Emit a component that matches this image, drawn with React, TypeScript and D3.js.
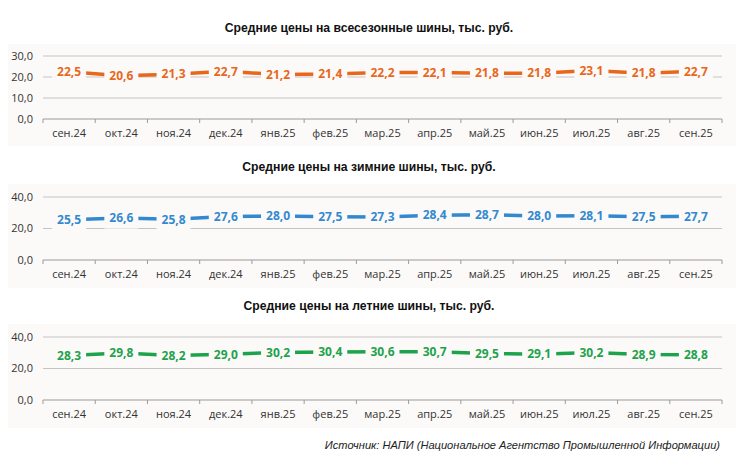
import React from 'react'
import * as d3 from 'd3'

const months = ['сен.24', 'окт.24', 'ноя.24', 'дек.24', 'янв.25', 'фев.25', 'мар.25', 'апр.25', 'май.25', 'июн.25', 'июл.25', 'авг.25', 'сен.25']

const allSeason = [22.5, 20.6, 21.3, 22.7, 21.2, 21.4, 22.2, 22.1, 21.8, 21.8, 23.1, 21.8, 22.7]
const winter = [25.5, 26.6, 25.8, 27.6, 28.0, 27.5, 27.3, 28.4, 28.7, 28.0, 28.1, 27.5, 27.7]
const summer = [28.3, 29.8, 28.2, 29.0, 30.2, 30.4, 30.6, 30.7, 29.5, 29.1, 30.2, 28.9, 28.8]

const allSeasonTicks = [0, 10, 20, 30]
const winterTicks = [0, 20, 40]
const summerTicks = [0, 20, 40]

const titles = [
  'Средние цены на всесезонные шины, тыс. руб.',
  'Средние цены на зимние шины, тыс. руб.',
  'Средние цены на летние шины, тыс. руб.',
]
const source = 'Источник: НАПИ (Национальное Агентство Промышленной Информации)'

const W = 750
const H = 466
const panelBg = '#fcfaf8'
const fmt = (v: number) => d3.format('.1f')(v).replace('.', ',')
const labelFont = '"Open Sans", "Noto Sans", sans-serif'

interface PanelProps {
  title: string
  values: number[]
  ticks: number[]
  color: string
  titleY: number
  top: number
  bottom: number
  bgTop: number
  bgBottom: number
}

const x = d3.scaleBand<string>().domain(months).range([43, 722])

const Panel = ({ title, values, ticks, color, titleY, top, bottom, bgTop, bgBottom }: PanelProps) => {
  const y = d3.scaleLinear().domain([0, d3.max(ticks) as number]).range([bottom, top])
  const cx = (i: number) => (x(months[i]) as number) + x.bandwidth() / 2
  const line = d3
    .line<number>()
    .x((_, i) => cx(i))
    .y((d) => y(d))

  const tickXs = months.map((m) => x(m) as number).concat([x.range()[1]])

  return (
    <g>
      <rect x={8} y={bgTop} width={728} height={bgBottom - bgTop} fill={panelBg} />
      <text
        x={369}
        y={titleY}
        textAnchor="middle"
        fontFamily='"Liberation Sans", Arial, sans-serif'
        fontWeight="bold"
        fontSize={12.2}
        fill="#111"
      >
        {title}
      </text>
      {ticks.map((t) => (
        <g key={t}>
          {t > 0 && <line x1={43} x2={722} y1={y(t)} y2={y(t)} stroke="#c4c4c4" strokeWidth={1} />}
          <text
            x={33}
            y={y(t)}
            dy="0.35em"
            textAnchor="end"
            fontFamily={labelFont}
            fontSize={11}
            fill="#333"
          >
            {fmt(t)}
          </text>
        </g>
      ))}
      <line x1={43} x2={722} y1={bottom} y2={bottom} stroke="#9a9a9a" strokeWidth={1} />
      {tickXs.map((tx, i) => (
        <line key={i} x1={tx} x2={tx} y1={bottom} y2={bottom + 4} stroke="#9a9a9a" strokeWidth={1} />
      ))}
      {months.map((m, i) => (
        <text
          key={m + i}
          x={cx(i)}
          y={bottom + 18}
          textAnchor="middle"
          fontFamily={labelFont}
          fontSize={11}
          fill="#333"
        >
          {m}
        </text>
      ))}
      <path d={line(values) as string} fill="none" stroke={color} strokeWidth={3.5} />
      {values.map((v, i) => (
        <g key={i}>
          <rect x={cx(i) - 17} y={y(v) - 10.5} width={34} height={21} fill={panelBg} />
          <text
            x={cx(i)}
            y={y(v)}
            dy="0.35em"
            textAnchor="middle"
            fontFamily={labelFont}
            fontWeight="bold"
            fontSize={12}
            fill={color}
          >
            {fmt(v)}
          </text>
        </g>
      ))}
    </g>
  )
}

const App = () => {
  return (
    <svg
      width={W}
      height={H}
      style={{ position: 'absolute', left: 0, top: 0, background: '#fff' }}
    >
      <rect width={W} height={H} fill="#fff" />
      <Panel title={titles[0]} values={allSeason} ticks={allSeasonTicks} color="#e8671b"
        titleY={32} top={56} bottom={119} bgTop={44} bgBottom={146} />
      <Panel title={titles[1]} values={winter} ticks={winterTicks} color="#3389d0"
        titleY={171} top={197} bottom={260} bgTop={184} bgBottom={288} />
      <Panel title={titles[2]} values={summer} ticks={summerTicks} color="#1ca34c"
        titleY={310} top={337} bottom={400} bgTop={324} bgBottom={428} />
      <text
        x={720}
        y={449}
        textAnchor="end"
        fontFamily='"Liberation Sans", Arial, sans-serif'
        fontStyle="italic"
        fontSize={11.1}
        fill="#222"
      >
        {source}
      </text>
    </svg>
  )
}

export default App
